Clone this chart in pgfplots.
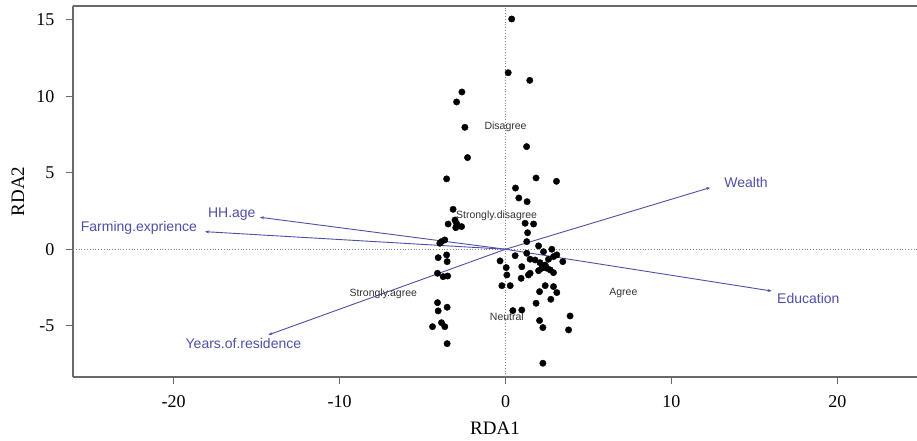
\documentclass[border=0pt]{standalone}
\usepackage{fontspec}
\setmainfont{Liberation Serif}
\newfontfamily\arial{Liberation Sans}
\usepackage{pgfplots}
\pgfplotsset{compat=1.18}
\usetikzlibrary{arrows.meta}
\definecolor{vec}{RGB}{78,78,168}
\definecolor{axg}{RGB}{105,105,105}
\tikzset{vecarrow/.style={vec, line width=0.9bp, -{Stealth[length=4bp,width=3bp]}}}
\begin{document}
\begin{tikzpicture}
\begin{axis}[
  scale only axis, width=844bp, height=371bp,
  xmin=-26.07, xmax=24.8, ymin=-8.35, ymax=15.9,
  axis lines=left, axis line style={-, axg, line width=1.4bp},
  tick align=outside, major tick length=7bp,
  tick style={axg, line width=1.2bp},
  xtick={-20,-10,0,10,20}, ytick={-5,0,5,10,15},
  /pgf/number format/assume math mode=true,
  ticklabel style={font=\fontsize{18bp}{20bp}\selectfont},
  xticklabel style={yshift=-8bp},
  yticklabel style={xshift=-8bp},
  xlabel={RDA1}, ylabel={RDA2},
  label style={font=\fontsize{19bp}{21bp}\selectfont},
  xlabel style={at={(axis description cs:0.5,-0.1375)}, anchor=center},
  ylabel style={at={(axis description cs:-0.0652,0.5)}, anchor=center},
  clip=false,
]
\coordinate (sw) at (rel axis cs:0,0);
\coordinate (ne) at (rel axis cs:1,1);
\draw[axg, line width=1.4bp] (rel axis cs:0,1) -- (rel axis cs:1,1);
\addplot[gray, dotted, line width=0.8bp] coordinates {(0,-8.35) (0,15.9)};
\addplot[gray, dotted, line width=0.8bp] coordinates {(-26.07,0) (24.8,0)};
\addplot[only marks, mark=*, mark size=3.2bp, black] coordinates {
(0.37,15.05) (0.16,11.54) (1.46,11.04) (-2.63,10.28) (-2.95,9.63)
(-2.45,7.97) (-2.29,5.99) (-3.55,4.60) (1.27,6.71) (1.84,4.66)
(3.07,4.44) (0.60,4.00) (0.80,3.35) (1.30,3.11) (-3.16,2.61)
(-3.05,1.91) (-3.46,1.65) (-3.00,1.41) (-2.65,1.48) (-2.95,1.69)
(-3.86,0.50) (-3.66,0.61) (-3.96,0.39) (-4.06,-0.55) (-3.55,-0.37)
(-3.52,-0.81) (-4.10,-1.57) (-3.76,-1.79) (-3.49,-1.75) (-4.10,-3.49)
(-4.06,-4.03) (-3.52,-3.79) (-4.40,-5.06) (-3.86,-4.80) (-3.66,-5.06)
(-3.52,-6.17) (1.18,1.70) (1.69,1.65) (1.33,1.08) (1.28,0.50)
(-0.33,-0.76) (0.04,-1.20) (0.08,-1.68) (-0.22,-2.38) (0.28,-2.38)
(0.58,-0.42) (0.98,-1.14) (0.94,-1.90) (1.48,-1.57) (1.38,-1.68)
(1.28,-0.26) (1.99,0.22) (2.29,-0.16) (2.79,0.00) (2.89,-0.48)
(1.48,-0.65) (1.78,-0.70) (2.08,-0.88) (2.39,-1.03) (2.19,-1.24)
(2.49,-1.24) (2.69,-1.35) (1.99,-1.40) (2.89,-1.53) (3.45,-0.81)
(3.09,-0.37) (2.59,-0.65) (2.05,-2.77) (2.39,-2.38) (2.89,-2.44)
(3.09,-2.83) (2.73,-3.27) (1.84,-3.53) (0.44,-4.01) (0.98,-3.97)
(2.05,-4.66) (2.25,-5.12) (3.89,-4.36) (3.80,-5.27) (2.25,-7.45)
};
\addplot[vecarrow] coordinates {(0,0) (12.33,4.03)};
\addplot[vecarrow] coordinates {(0,0) (16.04,-2.73)};
\addplot[vecarrow] coordinates {(0,0) (-14.8,2.09)};
\addplot[vecarrow] coordinates {(0,0) (-18.11,1.15)};
\addplot[vecarrow] coordinates {(0,0) (-14.3,-5.6)};
\begin{scope}[every node/.style={text=vec, font=\arial\fontsize{14bp}{16bp}\selectfont, inner sep=0pt}]
\node at (axis cs:14.5,4.35) {Wealth};
\node at (axis cs:18.25,-3.2) {Education};
\node at (axis cs:-16.5,2.3) {HH.age};
\node at (axis cs:-22.1,1.37) {Farming.exprience};
\node at (axis cs:-15.8,-6.19) {Years.of.residence};
\end{scope}
\begin{scope}[every node/.style={text=black!80, font=\arial\fontsize{10.5bp}{12bp}\selectfont, inner sep=0pt}]
\node at (axis cs:0,8.0) {Disagree};
\node at (axis cs:-0.54,2.2) {Strongly.disagree};
\node at (axis cs:-7.37,-2.94) {Strongly.agree};
\node at (axis cs:7.1,-2.84) {Agree};
\node at (axis cs:0.08,-4.44) {Neutral};
\end{scope}
\end{axis}
\pgfresetboundingbox
\path ([shift={(-73bp,-64bp)}]sw) rectangle ([shift={(0bp,6bp)}]ne);
\end{tikzpicture}
\end{document}
